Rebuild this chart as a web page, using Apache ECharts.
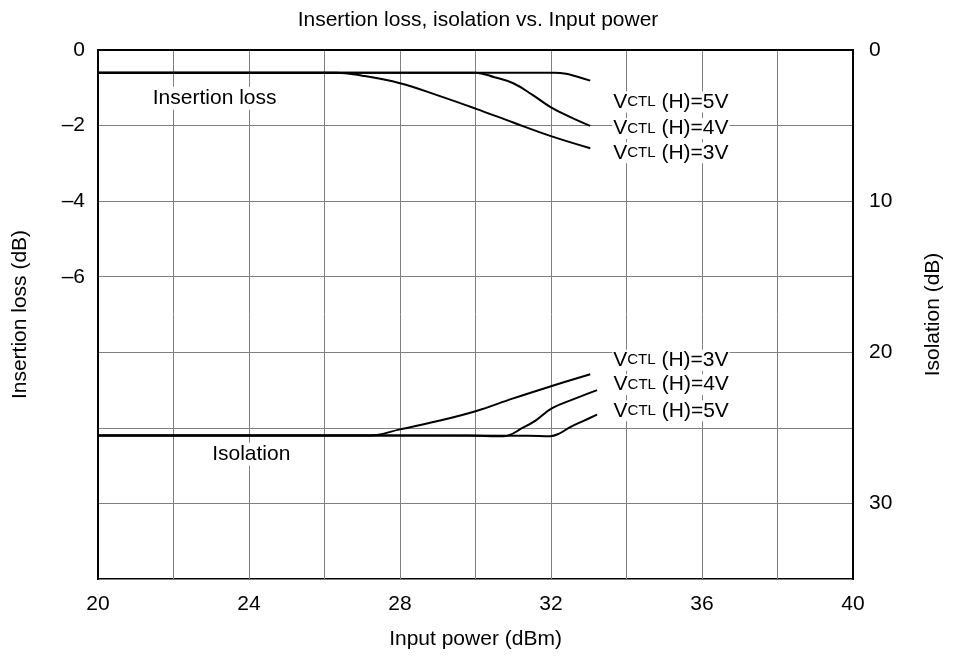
<!DOCTYPE html>
<html><head><meta charset="utf-8">
<script src="https://cdn.jsdelivr.net/npm/echarts@6/dist/echarts.min.js"></script>
<style>html,body{margin:0;padding:0;background:#fff}#c{width:956px;height:659px}</style>
</head><body><div id="c"></div>
<script>
// ---- data ----
const xTicks = [20, 24, 28, 32, 36, 40];
const leftTicks = [0, -2, -4, -6];
const rightTicks = [0, 10, 20, 30];

const il5V_x = [20, 31.5, 32.1, 32.4, 32.7, 33.04];
const il5V_y = [-0.6, -0.6, -0.6, -0.63, -0.71, -0.81];
const il4V_x = [20, 29.4, 30, 30.5, 31, 31.5, 32, 32.5, 33.04];
const il4V_y = [-0.6, -0.6, -0.6, -0.72, -0.88, -1.18, -1.52, -1.77, -2.01];
const il3V_x = [20, 25.6, 26.3, 27, 28, 29, 30, 31, 32, 33.04];
const il3V_y = [-0.6, -0.6, -0.6, -0.68, -0.88, -1.2, -1.55, -1.92, -2.28, -2.6];

const iso3V_x = [20, 26.5, 27.2, 28, 29, 30, 31, 32, 33.04];
const iso3V_y = [25.5, 25.5, 25.5, 25.1, 24.55, 23.9, 23.05, 22.25, 21.45];
const iso4V_x = [20, 29.8, 30.4, 30.75, 31.27, 31.6, 32.03, 32.6, 33.22];
const iso4V_y = [25.5, 25.5, 25.55, 25.55, 24.97, 24.5, 23.7, 23.1, 22.5];
const iso5V_x = [20, 31.4, 31.98, 32.2, 32.51, 32.85, 33.22];
const iso5V_y = [25.5, 25.52, 25.55, 25.4, 24.95, 24.55, 24.13];

const seriesNames = ['VCTL (H)=5V', 'VCTL (H)=4V', 'VCTL (H)=3V'];
const curveLabels = ['Insertion loss', 'Isolation'];

const zip = (a, b) => a.map((v, i) => [v, b[i]]);
const FONT = 'Liberation Sans, Arial, sans-serif';
const FS = 21;
const vctl = v => '{a|V}{b|CTL}{a| (H)=' + v + '}';
const rich = { a: { fontSize: FS, fontFamily: FONT, color: '#000' }, b: { fontSize: 15, fontFamily: FONT, color: '#000' } };

function line(name, data, yIdx, volt, offset, extra) {
  return Object.assign({
    name: name, type: 'line', yAxisIndex: yIdx, data: data,
    showSymbol: false, smooth: 0.4,
    lineStyle: { color: '#000', width: 2 }, z: 5,
    endLabel: { show: true, formatter: vctl(volt), rich: rich, position: 'right', distance: 0, offset: offset,
      backgroundColor: '#fff', padding: [0, 1] },
    animation: false
  }, extra || {});
}

const chart = echarts.init(document.getElementById('c'), null, { renderer: 'canvas' });
chart.setOption({
  animation: false,
  backgroundColor: '#fff',
  textStyle: { fontFamily: FONT },
  title: { text: 'Insertion loss, isolation vs. Input power', left: 'center', top: 5,
    textStyle: { fontSize: FS, fontWeight: 'normal', color: '#000', fontFamily: FONT } },
  grid: { left: 98, right: 103, top: 50, bottom: 80, show: true, borderColor: '#000', borderWidth: 2 },
  xAxis: {
    type: 'value', min: 20, max: 40, interval: 2,
    name: 'Input power (dBm)', nameLocation: 'middle', nameGap: 50,
    nameTextStyle: { fontSize: FS, color: '#000', fontFamily: FONT },
    axisLine: { show: true, lineStyle: { color: '#000', width: 2 } },
    axisTick: { show: false },
    axisLabel: { fontSize: FS, color: '#000', margin: 15, fontFamily: FONT,
      formatter: v => xTicks.includes(v) ? String(v) : '' },
    splitLine: { show: true, lineStyle: { color: '#808080', width: 1 } }
  },
  yAxis: [{
    type: 'value', min: -14, max: 0, interval: 2, position: 'left',
    name: 'Insertion loss (dB)', nameLocation: 'middle', nameGap: 67,
    nameTextStyle: { fontSize: FS, color: '#000', fontFamily: FONT },
    axisLine: { show: true, lineStyle: { color: '#000', width: 2 } },
    axisTick: { show: false },
    axisLabel: { fontSize: FS, color: '#000', margin: 13, fontFamily: FONT,
      formatter: v => leftTicks.includes(v) ? (v < 0 ? '\u2013' + (-v) : String(v)) : '' },
    splitLine: { show: true, lineStyle: { color: '#808080', width: 1 } }
  }, {
    type: 'value', min: 0, max: 35, interval: 5, inverse: true, position: 'right',
    name: 'Isolation (dB)', nameLocation: 'middle', nameGap: 70,
    nameTextStyle: { fontSize: FS, color: '#000', fontFamily: FONT },
    axisLine: { show: true, lineStyle: { color: '#000', width: 2 } },
    axisTick: { show: false },
    axisLabel: { fontSize: FS, color: '#000', margin: 16, fontFamily: FONT,
      formatter: v => rightTicks.includes(v) ? String(v) : '' },
    splitLine: { show: false }
  }],
  series: [
    line(seriesNames[0] + ' IL', zip(il5V_x, il5V_y), 0, '5V', [22, 21.5], {
      markPoint: { symbol: 'circle', symbolSize: 0, silent: true,
        data: [{ coord: [23.09, -1.28], value: curveLabels[0] }],
        label: { show: true, position: 'inside', formatter: curveLabels[0], fontSize: FS, color: '#000', fontFamily: FONT,
          backgroundColor: '#fff', padding: [1, 2] } } }),
    line(seriesNames[1] + ' IL', zip(il4V_x, il4V_y), 0, '4V', [22, 2.5]),
    line(seriesNames[2] + ' IL', zip(il3V_x, il3V_y), 0, '3V', [22, 4.5]),
    line(seriesNames[2] + ' ISO', zip(iso3V_x, iso3V_y), 1, '3V', [22, -14], {
      markPoint: { symbol: 'circle', symbolSize: 0, silent: true,
        data: [{ coord: [24.06, 26.75], value: curveLabels[1] }],
        label: { show: true, position: 'inside', formatter: curveLabels[1], fontSize: FS, color: '#000', fontFamily: FONT,
          backgroundColor: '#fff', padding: [1, 2] } } }),
    line(seriesNames[1] + ' ISO', zip(iso4V_x, iso4V_y), 1, '4V', [15.5, -5.5]),
    line(seriesNames[0] + ' ISO', zip(iso5V_x, iso5V_y), 1, '5V', [15.5, -4])
  ]
});
</script></body></html>
